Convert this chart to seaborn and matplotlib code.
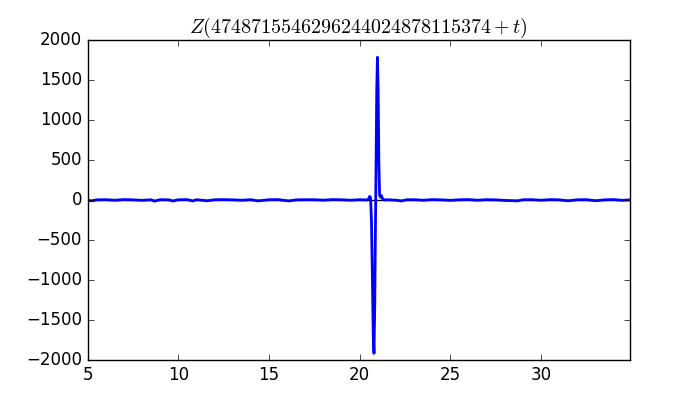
import matplotlib
matplotlib.use("Agg")
import matplotlib.pyplot as plt
import seaborn as sns

# values
t_left = [5.0, 5.2, 5.5, 6.0, 6.5, 7.0, 7.5, 8.0, 8.5, 8.7, 9.0, 9.5, 9.7, 10.0,
          10.5, 10.8, 11.0, 11.6, 12.0, 12.5, 13.0, 13.5, 14.0, 14.4, 15.0, 15.5,
          16.1, 16.5, 17.0, 17.5, 18.0, 18.5, 19.0, 19.5, 20.0, 20.4]
z_left = [0, -12, 2, 4, -3, 5, 2, -4, 3, -14, 4, 2, -13, 3,
          5, -12, 4, -10, 3, 5, 2, -3, 4, -11, 3, 5,
          -12, 2, 4, 3, -2, 5, 3, -3, 4, 0]

t_spike = [20.5, 20.55, 20.6, 20.65, 20.7, 20.75, 20.79, 20.83, 20.87, 20.9,
           20.94, 20.98, 21.02, 21.06, 21.1, 21.15, 21.2, 21.25, 21.35]
z_spike = [15, 45, 30, -250, -950, -1700, -1916, -1350, -350, 350,
           1350, 1784, 1350, 450, 60, 35, 55, 20, 0]

t_right = [21.5, 22.0, 22.3, 22.6, 23.0, 23.5, 24.0, 24.5, 25.0, 25.5, 26.0,
           26.5, 27.0, 27.5, 28.0, 28.7, 29.0, 29.5, 30.0, 30.5, 31.0, 31.5,
           32.0, 32.5, 33.0, 33.5, 34.0, 34.5, 34.9]
z_right = [3, -2, -12, 3, 4, -3, 5, 2, -4, 3, 5,
           -3, 4, 2, -5, -11, 3, 4, -3, 5, 2, -10,
           3, 4, -9, 2, 5, -4, 2]

t_vals = t_left + t_spike + t_right
z_vals = z_left + z_spike + z_right

plt.style.use('classic')
fig, ax = plt.subplots(figsize=(7, 4), dpi=100)
fig.patch.set_facecolor('white')

ax.axhline(0, color='k', linewidth=1, zorder=1)
sns.lineplot(x=t_vals, y=z_vals, color='b', linewidth=2, ax=ax, zorder=2)

ax.set_xlim(5, 34.9)
ax.set_ylim(-2000, 2000)
ax.set_title(r'$Z(4748715546296244024878115374+t)$')

fig.savefig('out.png', dpi=100, facecolor='white')
